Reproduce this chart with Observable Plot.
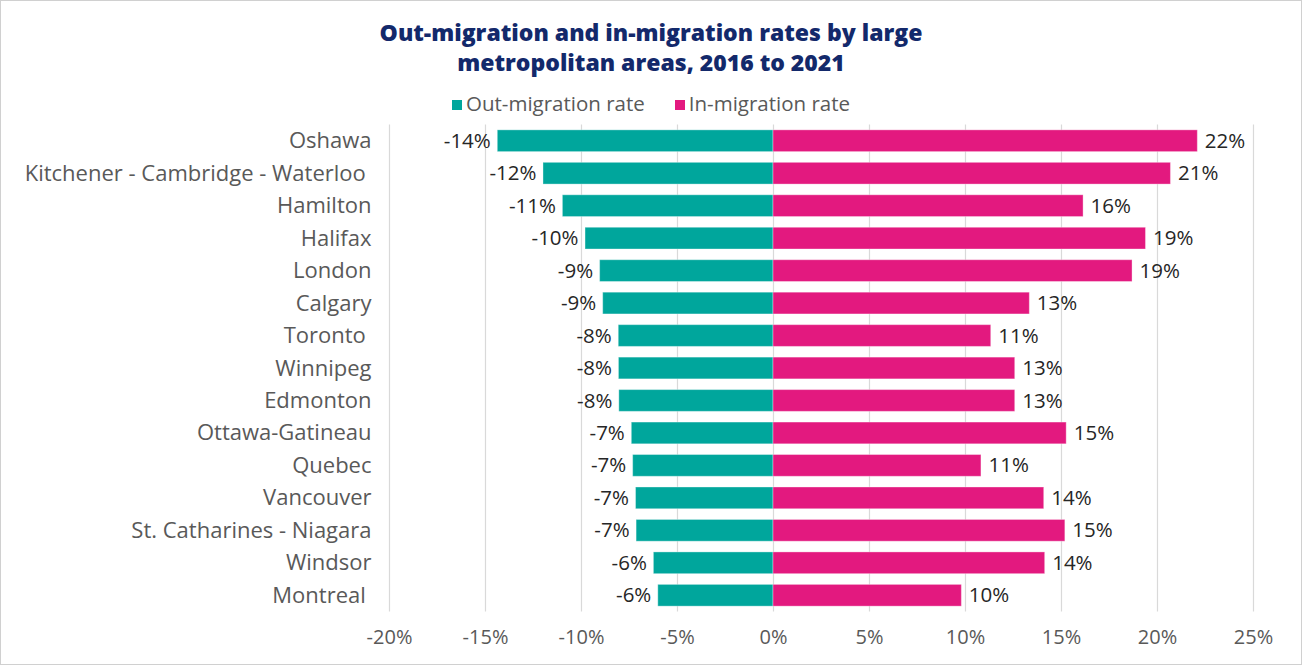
<!DOCTYPE html>
<html>
<head>
<meta charset="utf-8">
<script src="https://cdn.jsdelivr.net/npm/d3@7"></script>
<script src="https://cdn.jsdelivr.net/npm/@observablehq/plot@0.6"></script>
<style>
  html, body { margin: 0; padding: 0; background: #fff; }
  #frame { width: 1302px; height: 665px; box-sizing: border-box; border: 1px solid #d0d0d0; position: relative; overflow: hidden; font-family: "Open Sans", sans-serif; }
  #header { position: relative; height: 117px; }
  #title { position: absolute; left: 0; right: 0; top: 16px; text-align: center; font-weight: 800; font-size: 23px; line-height: 30px; color: #13296b; }
  #legend { position: absolute; left: 0; right: 0; top: 91px; text-align: center; font-size: 20.5px; line-height: 22px; color: #595959; }
  .sw { display: inline-block; width: 10px; height: 10px; margin-right: 4px; vertical-align: 1px; }
  .item { margin: 0 15px; }
  #chart { line-height: 0; }
  svg text { white-space: pre; }
</style>
</head>
<body>
<div id="frame">
  <div id="header">
    <div id="title">Out-migration and in-migration rates by large<br>metropolitan areas, 2016 to 2021</div>
    <div id="legend"></div>
  </div>
  <div id="chart"></div>
</div>
<script>
const categories = ["Oshawa", "Kitchener - Cambridge - Waterloo ", "Hamilton", "Halifax", "London", "Calgary", "Toronto ", "Winnipeg", "Edmonton", "Ottawa-Gatineau", "Quebec", "Vancouver", "St. Catharines - Niagara", "Windsor", "Montreal "];
const outRate = [-14.36, -11.98, -10.97, -9.79, -9.03, -8.87, -8.06, -8.05, -8.03, -7.38, -7.31, -7.16, -7.13, -6.23, -6.0];
const inRate = [22.1, 20.7, 16.15, 19.4, 18.7, 13.35, 11.34, 12.59, 12.59, 15.27, 10.83, 14.1, 15.2, 14.15, 9.81];
const seriesNames = ["Out-migration rate", "In-migration rate"];
const seriesColors = ["#00a69c", "#e3197f"];
const xTicks = [-20, -15, -10, -5, 0, 5, 10, 15, 20, 25];

const rows = categories.flatMap((c, i) => [
  {city: c, series: seriesNames[0], value: outRate[i]},
  {city: c, series: seriesNames[1], value: inRate[i]}
]);

d3.select("#legend").selectAll("span.item").data(seriesNames).join("span")
  .attr("class", "item")
  .html((d, i) => `<span class="sw" style="background:${seriesColors[i]}"></span>${d}`);

const chart = Plot.plot({
  width: 1300,
  height: 547,
  marginLeft: 388,
  marginRight: 48,
  marginTop: 6.5,
  marginBottom: 53.5,
  style: {fontFamily: "Open Sans, sans-serif", fontSize: "20px", color: "#595959", background: "transparent", display: "block"},
  x: {domain: [-20, 25], label: null},
  y: {domain: categories, paddingInner: 0.33, paddingOuter: 0.165, round: false, label: null},
  color: {domain: seriesNames, range: seriesColors},
  marks: [
    Plot.gridX(xTicks, {stroke: "#d9d9d9", strokeOpacity: 1, strokeWidth: 1.2}),
    Plot.barX(rows, {x: "value", y: "city", fill: "series", stroke: "#ffffff", strokeOpacity: 0.35, strokeWidth: 1}),
    Plot.text(rows.filter(d => d.value < 0), {x: "value", y: "city", text: d => Math.round(d.value) + "%", textAnchor: "end", dx: -7, fill: "#262626", fontSize: 20.5}),
    Plot.text(rows.filter(d => d.value >= 0), {x: "value", y: "city", text: d => Math.round(d.value) + "%", textAnchor: "start", dx: 7, fill: "#262626", fontSize: 20.5}),
    Plot.axisX({ticks: xTicks, tickFormat: d => d + "%", tickSize: 0, tickPadding: 18, fill: "#595959", fontSize: 20}),
    Plot.axisY({tickSize: 0, tickPadding: 18, fill: "#595959", fontSize: 22})
  ]
});
document.getElementById("chart").appendChild(chart);
</script>
</body>
</html>
